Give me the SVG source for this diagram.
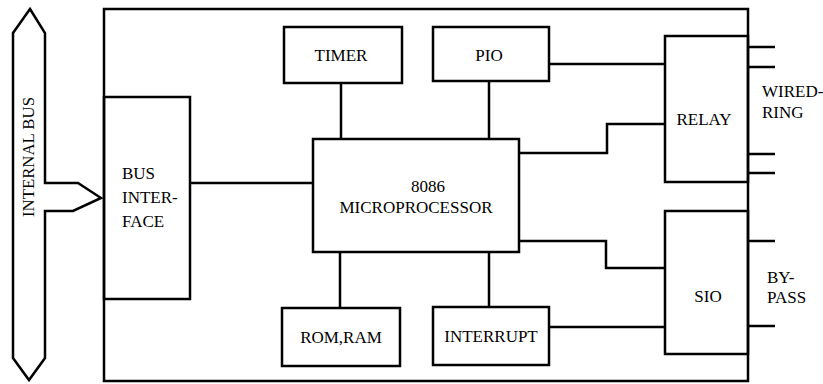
<svg xmlns="http://www.w3.org/2000/svg" width="823" height="384" viewBox="0 0 823 384">
<style>
.b{fill:none;stroke:#000;stroke-width:2.5;stroke-linejoin:miter}
.l{fill:none;stroke:#000;stroke-width:2.5}
.t{font-family:'Liberation Serif',serif;font-size:17px;fill:#000}
.c{text-anchor:middle}
</style>
<rect width="823" height="384" fill="#fff"/>
<g id="internal-bus">
<polygon class="b" points="30,9 45,33 45,183 78,183 101,198 73,211 45,211 45,358 29,380 13,358 13,33"/>
<text class="t c" font-family="Liberation Serif" transform="translate(34,157) rotate(-90)" textLength="120" lengthAdjust="spacingAndGlyphs">INTERNAL BUS</text>
</g>
<g id="board">
<rect class="b" x="104" y="9" width="644" height="372"/>
</g>
<g id="bus-interface">
<rect class="b" x="104" y="97" width="86" height="202"/>
<text class="t" font-family="Liberation Serif" x="122" y="179">BUS</text>
<text class="t" font-family="Liberation Serif" x="122" y="203">INTER-</text>
<text class="t" font-family="Liberation Serif" x="122" y="227">FACE</text>
</g>
<g id="timer">
<rect class="b" x="284" y="27" width="118" height="56"/>
<text class="t c" font-family="Liberation Serif" x="341" y="61">TIMER</text>
</g>
<g id="pio">
<rect class="b" x="433" y="27" width="116" height="54"/>
<text class="t c" font-family="Liberation Serif" x="489" y="61">PIO</text>
</g>
<g id="microprocessor">
<rect class="b" x="313" y="139" width="206" height="113"/>
<text class="t c" font-family="Liberation Serif" x="428" y="192">8086</text>
<text class="t c" font-family="Liberation Serif" x="416" y="213">MICROPROCESSOR</text>
</g>
<g id="rom-ram">
<rect class="b" x="282" y="308" width="118" height="58"/>
<text class="t c" font-family="Liberation Serif" x="341" y="343">ROM,RAM</text>
</g>
<g id="interrupt">
<rect class="b" x="433" y="307" width="116" height="58"/>
<text class="t c" font-family="Liberation Serif" x="491" y="342">INTERRUPT</text>
</g>
<g id="relay">
<rect class="b" x="665" y="36" width="83" height="146"/>
<text class="t c" font-family="Liberation Serif" x="704" y="125">RELAY</text>
</g>
<g id="sio">
<rect class="b" x="665" y="211" width="83" height="143"/>
<text class="t c" font-family="Liberation Serif" x="708" y="302">SIO</text>
</g>
<g id="labels">
<text class="t" font-family="Liberation Serif" x="762" y="97">WIRED-</text>
<text class="t" font-family="Liberation Serif" x="762" y="118">RING</text>
<text class="t" font-family="Liberation Serif" x="767" y="283">BY-</text>
<text class="t" font-family="Liberation Serif" x="767" y="303">PASS</text>
</g>
<g id="connectors">
<path class="l" d="M190,183H313"/>
<path class="l" d="M341,83V139"/>
<path class="l" d="M489,81V139"/>
<path class="l" d="M340,252V308"/>
<path class="l" d="M489,252V307"/>
<path class="l" d="M549,64H665"/>
<path class="l" d="M519,153H607V124H665"/>
<path class="l" d="M519,241H606V268H665"/>
<path class="l" d="M549,327H665"/>
<path class="l" d="M748,47H775M748,67H775M748,154H775M748,173H775"/>
<path class="l" d="M748,241H775M748,326H775"/>
</g>
</svg>
